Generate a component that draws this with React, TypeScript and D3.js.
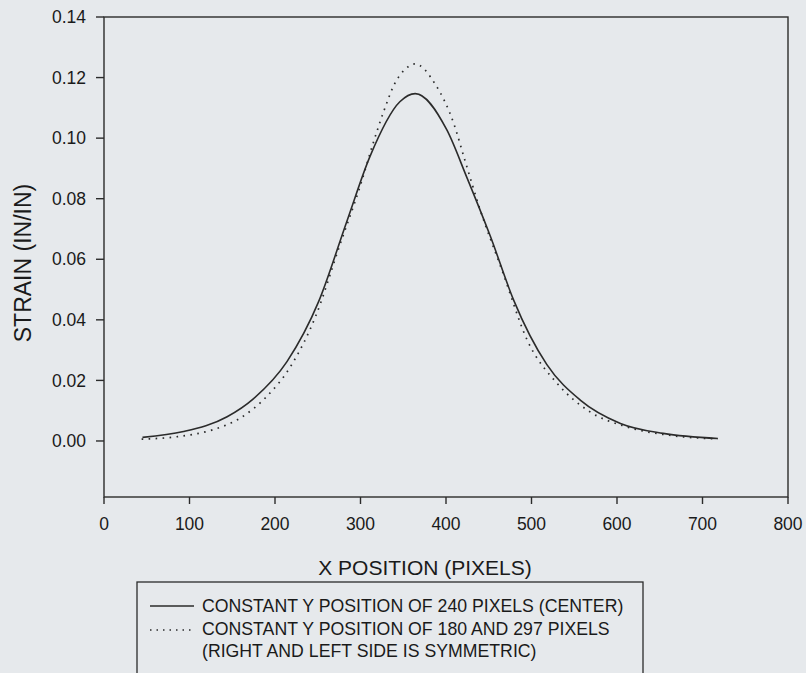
import React from "react";
import * as d3 from "d3";

const xTicks = [0, 100, 200, 300, 400, 500, 600, 700, 800];
const yTicks = [0.0, 0.02, 0.04, 0.06, 0.08, 0.1, 0.12, 0.14];

const centerX = [45, 93, 144, 175, 214, 251, 284, 311, 346, 364, 401, 424, 452, 479, 518, 557, 604, 654, 718];
const centerY = [0.0012, 0.0031, 0.008, 0.014, 0.0262, 0.046, 0.0725, 0.0939, 0.112, 0.1147, 0.1027, 0.0873, 0.0675, 0.0466, 0.0252, 0.0135, 0.0058, 0.0025, 0.0008];

const sideX = [44, 85, 126, 159, 190, 218, 248, 275, 300, 315, 327, 340, 352, 364, 387, 409, 422, 440, 466, 495, 530, 568, 611, 666, 718];
const sideY = [0.0006, 0.0014, 0.0036, 0.0075, 0.0146, 0.0245, 0.0415, 0.064, 0.0845, 0.0985, 0.1087, 0.118, 0.1227, 0.1245, 0.118, 0.1049, 0.0928, 0.0763, 0.056, 0.0333, 0.019, 0.0097, 0.0047, 0.0017, 0.0007];

const legendLabels = [
  "CONSTANT Y POSITION OF 240 PIXELS (CENTER)",
  "CONSTANT Y POSITION OF 180 AND 297 PIXELS",
  "(RIGHT AND LEFT SIDE IS SYMMETRIC)",
];

const W = 806;
const H = 673;
const left = 104, right = 788, top = 17, bottom = 497;
const ink = "#2b2b2b";
const font = "'Liberation Sans', Arial, sans-serif";

export default function App() {
  const x = d3.scaleLinear().domain([0, 800]).range([left, right]);
  const y = d3.scaleLinear().domain([-0.0185, 0.14]).range([bottom, top]);
  const line = d3
    .line<[number, number]>()
    .x((d) => x(d[0]))
    .y((d) => y(d[1]))
    .curve(d3.curveMonotoneX);
  const centerData = centerX.map((v, i) => [v, centerY[i]] as [number, number]);
  const sideData = sideX.map((v, i) => [v, sideY[i]] as [number, number]);

  return (
    <svg
      width={W}
      height={H}
      style={{ position: "absolute", left: 0, top: 0 }}
      fontFamily={font}
    >
      <rect x={0} y={0} width={W} height={H} fill="#e6e9ec" />
      <rect
        x={left}
        y={top}
        width={right - left}
        height={bottom - top}
        fill="none"
        stroke={ink}
        strokeWidth={1.4}
      />
      {yTicks.map((t) => (
        <g key={"y" + t}>
          <line x1={left - 8} x2={left} y1={y(t)} y2={y(t)} stroke={ink} strokeWidth={1.4} />
          <text x={86} y={y(t)} dy="0.35em" textAnchor="end" fontSize={17.5} fill="#1a1a1a">
            {t.toFixed(2)}
          </text>
        </g>
      ))}
      {xTicks.map((t) => (
        <g key={"x" + t}>
          <line x1={x(t)} x2={x(t)} y1={bottom} y2={bottom + 7} stroke={ink} strokeWidth={1.4} />
          <text x={x(t)} y={530} textAnchor="middle" fontSize={17.5} fill="#1a1a1a">
            {t}
          </text>
        </g>
      ))}
      <text x={425} y={575} textAnchor="middle" fontSize={21} fill="#1a1a1a">
        X POSITION (PIXELS)
      </text>
      <text
        transform={`translate(31, 263) rotate(-90)`}
        textAnchor="middle"
        fontSize={23}
        fill="#1a1a1a"
      >
        STRAIN (IN/IN)
      </text>
      <path d={line(centerData) || ""} fill="none" stroke={ink} strokeWidth={1.6} />
      <path
        d={line(sideData) || ""}
        fill="none"
        stroke={ink}
        strokeWidth={1.7}
        strokeDasharray="1.6 5.4"
      />
      <rect x={137} y={582} width={506} height={110} fill="none" stroke={ink} strokeWidth={1.3} />
      <line x1={150} x2={194} y1={606} y2={606} stroke={ink} strokeWidth={1.6} />
      <line x1={150} x2={194} y1={630} y2={630} stroke={ink} strokeWidth={1.4} strokeDasharray="1.5 5" />
      <text x={202} y={612} fontSize={17.7} fill="#1a1a1a">{legendLabels[0]}</text>
      <text x={202} y={635} fontSize={17.7} fill="#1a1a1a">{legendLabels[1]}</text>
      <text x={202} y={656.5} fontSize={17.7} fill="#1a1a1a">{legendLabels[2]}</text>
    </svg>
  );
}
